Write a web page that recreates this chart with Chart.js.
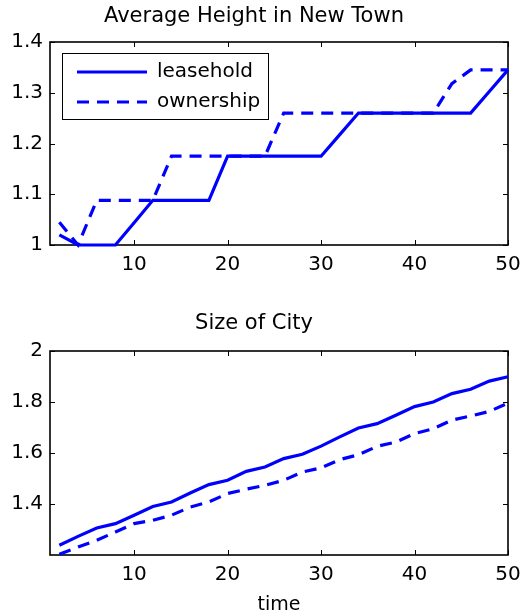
<!DOCTYPE html>
<html>
<head>
  <meta charset="UTF-8">
  <title>Average Height in New Town / Size of City</title>
  <style>
    body { margin: 0; background: #fff; }
    #wrap { position: relative; width: 525px; height: 616px; }
    .box { position: absolute; left: 0; width: 525px; }
  </style>
  <script src="https://cdn.jsdelivr.net/npm/chart.js"></script>
</head>
<body>
<div id="wrap">
  <div class="box" style="top:0;height:300px"><canvas id="heightChart" width="525" height="300"></canvas></div>
  <div class="box" style="top:300px;height:316px"><canvas id="sizeChart" width="525" height="316"></canvas></div>
</div>
<script>
  // time steps
  const time = [2, 4, 6, 8, 10, 12, 14, 16, 18, 20, 22, 24, 26, 28, 30, 32, 34, 36, 38, 40, 42, 44, 46, 48, 50];

  // Average Height in New Town
  const heightLeasehold = [1.02, 1.0, 1.0, 1.0, 1.044, 1.088, 1.088, 1.088, 1.088, 1.175, 1.175, 1.175, 1.175, 1.175, 1.175, 1.2175, 1.26, 1.26, 1.26, 1.26, 1.26, 1.26, 1.26, 1.3025, 1.345];
  const heightOwnership = [1.045, 1.0, 1.088, 1.088, 1.088, 1.088, 1.175, 1.175, 1.175, 1.175, 1.175, 1.175, 1.26, 1.26, 1.26, 1.26, 1.26, 1.26, 1.26, 1.26, 1.26, 1.318, 1.345, 1.345, 1.345];

  // Size of City
  const sizeLeasehold = [1.238, 1.273, 1.306, 1.323, 1.356, 1.39, 1.408, 1.443, 1.476, 1.493, 1.528, 1.545, 1.578, 1.595, 1.627, 1.663, 1.698, 1.715, 1.748, 1.782, 1.8, 1.833, 1.85, 1.882, 1.899];
  const sizeOwnership = [1.203, 1.231, 1.258, 1.29, 1.323, 1.336, 1.356, 1.388, 1.408, 1.441, 1.458, 1.473, 1.493, 1.525, 1.542, 1.574, 1.593, 1.626, 1.643, 1.676, 1.695, 1.729, 1.745, 1.763, 1.796];

  // tick labels
  const xTicks = [10, 20, 30, 40, 50];
  const heightTicks = [1, 1.1, 1.2, 1.3, 1.4];
  const sizeTicks = [1.4, 1.6, 1.8, 2];

  const seriesNames = ['leasehold', 'ownership'];
  const BLUE = '#0000ff';
  const FONT = "'DejaVu Sans', sans-serif";

  function pts(arr) {
    return time.map((t, i) => ({ x: t, y: arr[i] }));
  }

  function fmt(v) {
    return String(+Number(v).toFixed(2));
  }

  // matlab style box with inward ticks
  const framePlugin = {
    id: 'frame',
    beforeDatasetsDraw(chart) {
      const ctx = chart.ctx, a = chart.chartArea;
      const xs = chart.scales.x, ys = chart.scales.y;
      const len = 5;
      ctx.save();
      ctx.strokeStyle = '#000';
      ctx.lineWidth = 1;
      ctx.beginPath();
      xs.ticks.forEach(t => {
        const px = Math.round(xs.getPixelForValue(t.value)) + 0.5;
        ctx.moveTo(px, a.bottom); ctx.lineTo(px, a.bottom - len);
        ctx.moveTo(px, a.top); ctx.lineTo(px, a.top + len);
      });
      ys.ticks.forEach(t => {
        const py = Math.round(ys.getPixelForValue(t.value)) + 0.5;
        ctx.moveTo(a.left, py); ctx.lineTo(a.left + len, py);
        ctx.moveTo(a.right, py); ctx.lineTo(a.right - len, py);
      });
      ctx.stroke();
      ctx.lineWidth = 1.6;
      ctx.strokeRect(a.left, a.top, a.right - a.left, a.bottom - a.top);
      ctx.restore();
    }
  };

  // legend box in the upper left corner
  const boxLegend = {
    id: 'boxLegend',
    afterDatasetsDraw(chart) {
      const ctx = chart.ctx, a = chart.chartArea;
      const bx = a.left + 12, by = a.top + 11, bw = 206, bh = 66;
      ctx.save();
      ctx.fillStyle = '#fff';
      ctx.fillRect(bx, by, bw, bh);
      ctx.strokeStyle = '#000';
      ctx.lineWidth = 1;
      ctx.strokeRect(bx + 0.5, by + 0.5, bw, bh);
      chart.data.datasets.forEach((ds, i) => {
        const y = by + 19 + i * 30;
        ctx.strokeStyle = ds.borderColor;
        ctx.lineWidth = ds.borderWidth;
        ctx.setLineDash(ds.borderDash || []);
        ctx.beginPath();
        ctx.moveTo(bx + 15, y);
        ctx.lineTo(bx + 85, y);
        ctx.stroke();
        ctx.setLineDash([]);
        ctx.fillStyle = '#000';
        ctx.font = '20px ' + FONT;
        ctx.textBaseline = 'middle';
        ctx.fillText(ds.label, bx + 95, y);
      });
      ctx.restore();
    }
  };

  function makeChart(id, opts) {
    return new Chart(document.getElementById(id), {
      type: 'line',
      data: {
        datasets: [
          { label: seriesNames[0], data: pts(opts.lease), borderColor: BLUE, borderWidth: 3.2,
            pointRadius: 0, tension: 0, clip: false },
          { label: seriesNames[1], data: pts(opts.own), borderColor: BLUE, borderWidth: 3.2,
            borderDash: [12, 8], pointRadius: 0, tension: 0, clip: false }
        ]
      },
      options: {
        responsive: false,
        animation: false,
        layout: { padding: { left: 0, right: 17, top: 0, bottom: 0 } },
        plugins: {
          legend: { display: false },
          tooltip: { enabled: false },
          title: {
            display: true,
            text: opts.title,
            color: '#000',
            font: { family: FONT, size: 21, weight: 'normal' },
            padding: opts.titlePad
          }
        },
        scales: {
          x: {
            type: 'linear',
            min: 1, max: 50,
            grid: { display: false, drawTicks: false },
            border: { display: false },
            afterBuildTicks: s => { s.ticks = xTicks.map(v => ({ value: v })); },
            afterFit: s => { s.height = opts.xHeight; s.paddingLeft = 0; s.paddingRight = 0; },
            ticks: { color: '#000', padding: 8, maxRotation: 0, font: { family: FONT, size: 20 } },
            title: opts.xTitle ? {
              display: true, text: opts.xTitle, color: '#000',
              font: { family: FONT, size: 19 }, padding: { top: 0, bottom: 0 }
            } : { display: false }
          },
          y: {
            min: opts.yMin, max: opts.yMax,
            grid: { display: false, drawTicks: false },
            border: { display: false },
            afterBuildTicks: s => { s.ticks = opts.yTicks.map(v => ({ value: v })); },
            afterFit: s => { s.width = 50; },
            ticks: { color: '#000', padding: 7, callback: fmt, font: { family: FONT, size: 20 } }
          }
        }
      },
      plugins: opts.legend ? [framePlugin, boxLegend] : [framePlugin]
    });
  }

  makeChart('heightChart', {
    title: 'Average Height in New Town',
    titlePad: { top: 4, bottom: 12.8 },
    lease: heightLeasehold, own: heightOwnership,
    yMin: 1, yMax: 1.4, yTicks: heightTicks,
    xHeight: 55, legend: true
  });

  makeChart('sizeChart', {
    title: 'Size of City',
    titlePad: { top: 11, bottom: 14.8 },
    lease: sizeLeasehold, own: sizeOwnership,
    yMin: 1.2, yMax: 2, yTicks: sizeTicks,
    xHeight: 61, xTitle: 'time', legend: false
  });
</script>
</body>
</html>
